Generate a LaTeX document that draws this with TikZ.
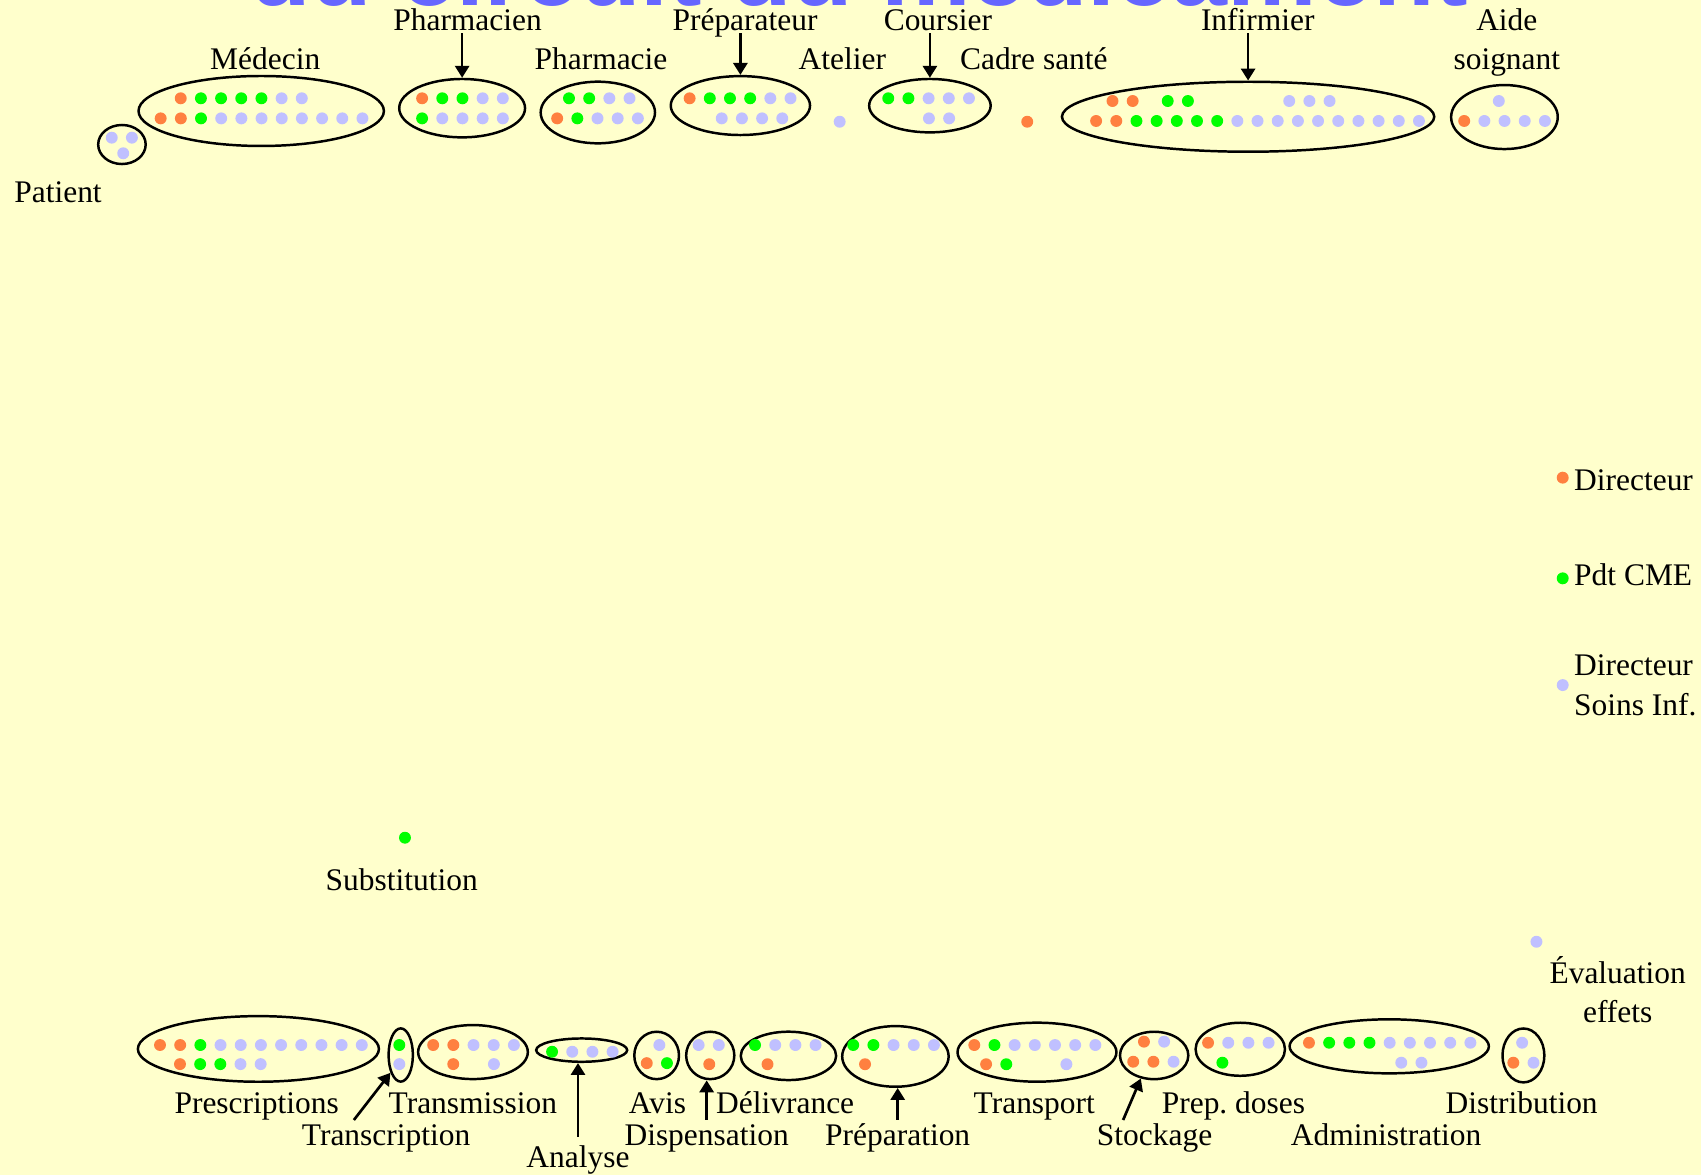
\documentclass[tikz,border=0pt]{standalone}
\usepackage{fontspec}
\setmainfont{Liberation Serif}
\newfontfamily\titrefont{Liberation Sans}
\usetikzlibrary{shapes.geometric,arrows.meta}

\definecolor{fond}{HTML}{FFFFCC}
\definecolor{dotO}{HTML}{FF8040}
\definecolor{dotG}{HTML}{00FF00}
\definecolor{dotL}{HTML}{C0C0FF}
\definecolor{titrebleu}{HTML}{6666FF}

\tikzset{
  grp/.style 2 args={draw, ellipse, line width=1.3pt, inner sep=0pt,
    minimum width=#1*0.02cm, minimum height=#2*0.02cm},
  lbl/.style={anchor=base, inner sep=1pt, align=center,
    font=\fontsize{16.5}{20.5}\selectfont},
  leg/.style={lbl, anchor=base west, align=left},
  arr/.style={-{Triangle[length=0.22cm,width=0.26cm]}, line width=1.4pt},
}
\newcommand{\dotrow}[3]{%
  \foreach \col [count=\k from 0] in {#3}
    \fill[dot\col] (#1+18.6*\k,#2) circle (0.11cm);}

\begin{document}
\begin{tikzpicture}[x=0.02cm, y=-0.02cm]
  \useasboundingbox (0,0) rectangle (1568,1083);
  \fill[fond] (0,0) rectangle (1568,1083);
  \node[anchor=base, inner sep=0pt, text=titrebleu,
    font=\fontsize{52.8}{60}\titrefont\bfseries] (titre) at (791.6,5.5) {du circuit du médicament};

  % acteurs
  \node[grp={43.8}{36}] (pat) at (112.4,133.2) {};
  \node[grp={226.2}{64.5}] (med) at (240.8,102.3) {};
  \node[grp={116}{53.8}] (phn) at (426,99.7) {};
  \node[grp={105.4}{56.8}] (phie) at (551.1,103.7) {};
  \node[grp={128.4}{54.3}] (prep) at (682.5,97.3) {};
  \node[grp={112}{49.2}] (cour) at (857.2,97.4) {};
  \node[grp={343.2}{64.5}] (inf) at (1150.5,107.6) {};
  \node[grp={98.3}{59}] (aide) at (1386.8,107.9) {};

  \dotrow{103}{126.9}{L,L}
  \dotrow{113.6}{141.3}{L}
  \dotrow{166.6}{90.6}{O,G,G,G,G,L,L}
  \dotrow{148.1}{109.1}{O,O,G,L,L,L,L,L,L,L,L}
  \dotrow{389.1}{90.6}{O,G,G,L,L}
  \dotrow{389.1}{109.1}{G,L,L,L,L}
  \dotrow{524.5}{90.6}{G,G,L,L}
  \dotrow{513.6}{109.1}{O,G,L,L,L}
  \dotrow{635.7}{90.6}{O,G,G,G,L,L}
  \dotrow{665.3}{109.1}{L,L,L,L}
  \dotrow{774}{112.2}{L}
  \dotrow{818.8}{90.6}{G,G,L,L,L}
  \dotrow{856.3}{109.1}{L,L}
  \dotrow{946.9}{112.2}{O}
  \dotrow{1025.5}{93.1}{O,O}
  \dotrow{1076.4}{93.1}{G,G}
  \dotrow{1188.4}{93.1}{L,L,L}
  \dotrow{1010.4}{111.5}{O,O,G,G,G,G,G,L,L,L,L,L,L,L,L,L,L}
  \dotrow{1381.6}{93.1}{L}
  \dotrow{1349.7}{111.5}{O,L,L,L,L}

  \node[lbl] (lphn) at (431,28.3) {Pharmacien};
  \node[lbl] (lprep) at (686.8,28.3) {Préparateur};
  \node[lbl] (lcour) at (864.6,28.3) {Coursier};
  \node[lbl] (linf) at (1159.4,28.3) {Infirmier};
  \node[lbl] (laide) at (1389,64.5) {Aide\\soignant};
  \node[lbl] (lmed) at (244.5,64.5) {Médecin};
  \node[lbl] (lphie) at (554,64) {Pharmacie};
  \node[lbl] (latel) at (776.5,64) {Atelier};
  \node[lbl] (lcadre) at (953,64) {Cadre santé};
  \node[lbl] (lpat) at (53.5,186.5) {Patient};

  \draw[arr] (lphn.base -| phn.north) ++(0,2.4) -- (phn);
  \draw[arr] (lprep.base -| prep.north) ++(0,2.4) -- (prep);
  \draw[arr] (lcour.base -| cour.north) ++(0,2.4) -- (cour);
  \draw[arr] (linf.base -| inf.north) ++(0,2.4) -- (inf);

  % legende
  \dotrow{1440.5}{440.3}{O}
  \dotrow{1440.5}{533.1}{G}
  \dotrow{1440.5}{631.5}{L}
  \node[leg] (ldir) at (1449,451.7) {Directeur};
  \node[leg] (lcme) at (1449,539.9) {Pdt CME};
  \node[leg] (ldsi) at (1449,659.1) {Directeur\\Soins Inf.};

  \dotrow{373.3}{772.2}{G}
  \node[lbl] (lsub) at (370.3,820.4) {Substitution};
  \dotrow{1416.3}{868.1}{L}
  \node[lbl] (leval) at (1491.2,942.7) {Évaluation\\effets};

  % etapes
  \node[grp={222.2}{60.5}] (presc) at (238.2,966.9) {};
  \node[grp={22.4}{49.1}] (transc) at (369.4,972.5) {};
  \node[grp={101.1}{49.8}] (transm) at (436,969.8) {};
  \node[grp={83.9}{21.5}] (anal) at (536.2,968) {};
  \node[grp={41.2}{43.7}] (avis) at (605.3,972.9) {};
  \node[grp={44.4}{43.7}] (disp) at (654.7,972.9) {};
  \node[grp={87.9}{44.6}] (deliv) at (726.8,973.3) {};
  \node[grp={98.1}{55.9}] (prepa) at (825.4,973.8) {};
  \node[grp={146.5}{54.4}] (transp) at (955.9,969.9) {};
  \node[grp={63}{43.7}] (stock) at (1063.9,972.9) {};
  \node[grp={82.4}{48.9}] (pdos) at (1143.3,967.2) {};
  \node[grp={183.7}{49.8}] (admin) at (1280.6,964.5) {};
  \node[grp={38.6}{49.7}] (distr) at (1404.3,972.9) {};

  \dotrow{147.5}{963.3}{O,O,G,L,L,L,L,L,L,L,L}
  \dotrow{165.9}{980.9}{O,G,G,L,L}
  \dotrow{368.1}{963.3}{G}
  \dotrow{368.1}{980.9}{L}
  \dotrow{399.3}{963.3}{O,O,L,L,L}
  \dotrow{417.8}{980.9}{O}
  \dotrow{455.3}{980.9}{L}
  \dotrow{508.9}{969.5}{G,L,L,L}
  \dotrow{607.8}{963.3}{L}
  \dotrow{596.2}{980}{O,G}
  \dotrow{644}{963.3}{L,L}
  \dotrow{653.8}{981}{O}
  \dotrow{696}{963.3}{G,L,L,L}
  \dotrow{707.5}{981}{O}
  \dotrow{786.5}{963.3}{G,G,L,L,L}
  \dotrow{797.4}{981}{O}
  \dotrow{898.1}{963.3}{O,G,L,L,L,L,L}
  \dotrow{909}{981}{O,G}
  \dotrow{983}{981}{L}
  \dotrow{1054.5}{960.2}{O,L}
  \dotrow{1044.6}{978.7}{O,O,L}
  \dotrow{1113.6}{961.2}{O,L,L,L}
  \dotrow{1126.8}{979.6}{G}
  \dotrow{1206.6}{961.2}{O,G,G,G,L,L,L,L,L}
  \dotrow{1291.7}{979.6}{L,L}
  \dotrow{1403.1}{961.2}{L}
  \dotrow{1395}{979.6}{O,L}

  \node[lbl] (lpresc) at (236.6,1026.3) {Prescriptions};
  \node[lbl] (ltransm) at (435.9,1026.3) {Transmission};
  \node[lbl] (lavis) at (606.1,1026.3) {Avis};
  \node[lbl] (ldeliv) at (723.8,1026.3) {Délivrance};
  \node[lbl] (ltransp) at (953.4,1026.3) {Transport};
  \node[lbl] (lpdos) at (1137,1026.3) {Prep.\ doses};
  \node[lbl] (ldistr) at (1402.7,1026.3) {Distribution};
  \node[lbl] (ltransc) at (355.9,1056) {Transcription};
  \node[lbl] (ldisp) at (651.4,1056) {Dispensation};
  \node[lbl] (lprepa) at (827.5,1056) {Préparation};
  \node[lbl] (lstock) at (1064.3,1056) {Stockage};
  \node[lbl] (ladmin) at (1277.7,1056) {Administration};
  \node[lbl] (lana) at (532.8,1076) {Analyse};

  \draw[arr] (ltransc.base) ++(-29.7,-23.6) -- (transc.240);
  \draw[arr] (lana.base) ++(0,-28) -- (lana.base |- anal.south);
  \draw[arr] (ldisp.base) ++(0,-23.6) -- (ldisp.base |- disp.south);
  \draw[arr] (lprepa.base) ++(0,-23.6) -- (lprepa.base |- prepa.south);
  \draw[arr] (lstock.base) ++(-29,-23.6) -- (stock.240);
\end{tikzpicture}
\end{document}
